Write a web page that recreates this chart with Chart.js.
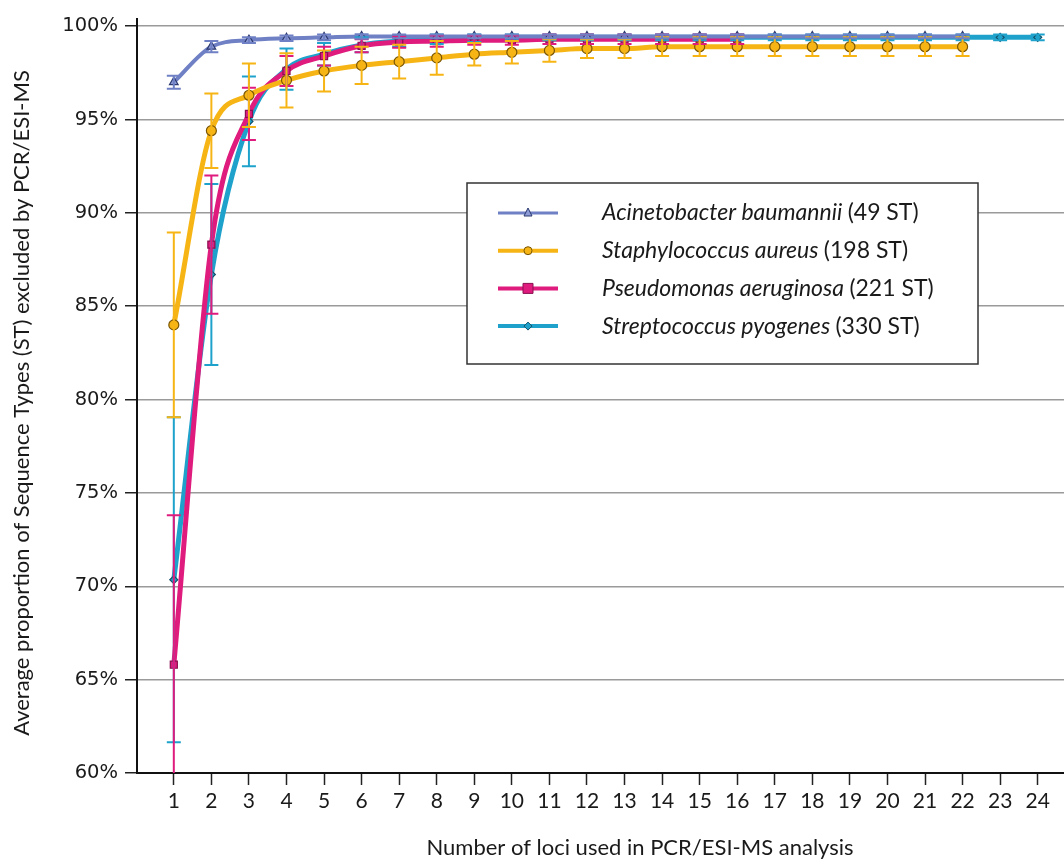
<!DOCTYPE html>
<html>
<head>
<meta charset="utf-8">
<script src="https://cdn.jsdelivr.net/npm/chart.js@4.4.0/dist/chart.umd.min.js"></script>
<style>
html, body { margin: 0; padding: 0; background: #fff; }
#wrap { width: 1064px; height: 864px; }
</style>
</head>
<body>
<div id="wrap"><canvas id="chart" width="1064" height="864"></canvas></div>
<script>
// data
const loci = [1,2,3,4,5,6,7,8,9,10,11,12,13,14,15,16,17,18,19,20,21,22,23,24];
const yTicks = [60,65,70,75,80,85,90,95,100];

const acineto    = [97.0,98.9,99.25,99.35,99.4,99.45,99.45,99.45,99.45,99.45,99.45,99.45,99.45,99.45,99.45,99.45,99.45,99.45,99.45,99.45,99.45,99.45];
const acinetoErr = [0.35,0.3,0.15,0.15,0.15,0.12,0.1,0.1,0.1,0.1,0.1,0.1,0.1,0.1,0.1,0.1,0.1,0.1,0.1,0.1,0.1,0.1];

const staph    = [84.0,94.4,96.3,97.1,97.6,97.9,98.1,98.3,98.5,98.6,98.7,98.8,98.8,98.9,98.9,98.9,98.9,98.9,98.9,98.9,98.9,98.9];
const staphErr = [4.95,2.0,1.7,1.45,1.1,1.0,0.9,0.9,0.6,0.6,0.6,0.5,0.5,0.5,0.5,0.5,0.5,0.5,0.5,0.5,0.5,0.5];

const pseudo    = [65.8,88.3,95.3,97.6,98.4,98.95,99.15,99.2,99.25,99.25,99.3,99.3,99.3,99.3,99.3,99.3];
const pseudoErr = [8.0,3.7,1.4,0.8,0.5,0.35,0.3,0.3,0.25,0.25,0.25,0.25,0.25,0.25,0.25,0.25];

const strep    = [70.35,86.7,94.9,97.7,98.5,99.0,99.2,99.3,99.35,99.4,99.4,99.4,99.4,99.4,99.4,99.4,99.4,99.4,99.4,99.4,99.4,99.4,99.4,99.4];
const strepErr = [8.7,4.85,2.4,1.1,0.6,0.4,0.3,0.25,0.2,0.15,0.15,0.15,0.15,0.15,0.15,0.15,0.15,0.15,0.15,0.15,0.15,0.15,0.15,0.15];

const names  = ['Acinetobacter baumannii', 'Staphylococcus aureus', 'Pseudomonas aeruginosa', 'Streptococcus pyogenes'];
const counts = ['(49 ST)', '(198 ST)', '(221 ST)', '(330 ST)'];
const xTitle = 'Number of loci used in PCR/ESI-MS analysis';
const yTitle = 'Average proportion of Sequence Types (ST) excluded by PCR/ESI-MS';

const pts = (arr) => arr.map((v, i) => ({x: loci[i], y: v}));

const narrow = "'Lato', sans-serif";

// error bars
const errorBars = {
    id: 'errorBars',
    afterDatasetsDraw(chart) {
        const ctx = chart.ctx;
        const xs = chart.scales.x, ys = chart.scales.y;
        const a = chart.chartArea;
        ctx.save();
        ctx.beginPath();
        ctx.rect(a.left, a.top, a.right - a.left, a.bottom - a.top);
        ctx.clip();
        for (let d = chart.data.datasets.length - 1; d >= 0; d--) {
            const ds = chart.data.datasets[d];
            ctx.strokeStyle = ds.borderColor;
            ctx.lineWidth = 2;
            ds.data.forEach((p, i) => {
                const e = ds.errs[i];
                const x = xs.getPixelForValue(p.x);
                const y1 = ys.getPixelForValue(p.y + e);
                const y2 = ys.getPixelForValue(p.y - e);
                ctx.beginPath();
                ctx.moveTo(x, y1); ctx.lineTo(x, y2);
                ctx.moveTo(x - 7, y1); ctx.lineTo(x + 7, y1);
                ctx.moveTo(x - 7, y2); ctx.lineTo(x + 7, y2);
                ctx.stroke();
            });
        }
        ctx.restore();
    }
};

// axis titles, placed like the figure (not centred on the plot area)
const axisTitles = {
    id: 'axisTitles',
    afterDraw(chart) {
        const ctx = chart.ctx;
        ctx.save();
        ctx.fillStyle = '#1a1a1a';
        ctx.textAlign = 'center';
        ctx.textBaseline = 'middle';
        ctx.font = "22px " + narrow;
        ctx.fillText(xTitle, 640, 848);
        ctx.translate(22, 403);
        ctx.rotate(-Math.PI / 2);
        ctx.font = "22px " + narrow;
        ctx.fillText(yTitle, 0, 0);
        ctx.restore();
    }
};

// boxed legend with italic species names
const boxLegend = {
    id: 'boxLegend',
    afterDraw(chart) {
        const ctx = chart.ctx;
        const bx = 467, by = 183, bw = 511, bh = 181;
        ctx.save();
        ctx.fillStyle = '#fff';
        ctx.fillRect(bx, by, bw, bh);
        ctx.strokeStyle = '#333';
        ctx.lineWidth = 1.5;
        ctx.strokeRect(bx, by, bw, bh);
        chart.data.datasets.forEach((ds, i) => {
            const y = by + 30 + i * 37.7;
            ctx.strokeStyle = ds.borderColor;
            ctx.lineWidth = ds.borderWidth - 1;
            ctx.beginPath();
            ctx.moveTo(bx + 31, y); ctx.lineTo(bx + 91, y);
            ctx.stroke();
            ctx.fillStyle = ds.pointBackgroundColor;
            ctx.strokeStyle = ds.pointBorderColor;
            ctx.lineWidth = 1;
            ctx.beginPath();
            if (ds.pointStyle === 'circle') {
                ctx.arc(bx + 61, y, 4, 0, Math.PI * 2);
            } else if (ds.pointStyle === 'rect') {
                ctx.rect(bx + 56, y - 5, 10, 10);
            } else if (ds.pointStyle === 'triangle') {
                ctx.moveTo(bx + 61, y - 5); ctx.lineTo(bx + 65, y + 3); ctx.lineTo(bx + 57, y + 3); ctx.closePath();
            } else {
                ctx.moveTo(bx + 61, y - 4); ctx.lineTo(bx + 65, y); ctx.lineTo(bx + 61, y + 4); ctx.lineTo(bx + 57, y); ctx.closePath();
            }
            ctx.fill(); ctx.stroke();
            ctx.fillStyle = '#1a1a1a';
            ctx.textBaseline = 'middle';
            ctx.font = "italic 23px 'Lato', sans-serif";
            ctx.fillText(names[i], bx + 135, y);
            const w = ctx.measureText(names[i] + ' ').width;
            ctx.font = "23px 'Lato', sans-serif";
            ctx.fillText(counts[i], bx + 135 + w, y);
        });
        ctx.restore();
    }
};

const chart = document.querySelector('#chart').getContext('2d');

new Chart(chart, {
    type: 'line',
    data: {
        datasets: [{
            label: names[0],
            data: pts(acineto),
            errs: acinetoErr,
            borderColor: '#6f80c4',
            borderWidth: 4,
            pointStyle: 'triangle',
            pointRadius: 5,
            pointBackgroundColor: '#8d9bd6',
            pointBorderColor: '#2c3a70',
            pointBorderWidth: 1.2
        }, {
            label: names[1],
            data: pts(staph),
            errs: staphErr,
            borderColor: '#f6b515',
            borderWidth: 5,
            pointStyle: 'circle',
            pointRadius: 5,
            pointBackgroundColor: '#f6b515',
            pointBorderColor: '#7a5606',
            pointBorderWidth: 1.2
        }, {
            label: names[2],
            data: pts(pseudo),
            errs: pseudoErr,
            borderColor: '#df1b7d',
            borderWidth: 5,
            pointStyle: 'rect',
            pointRadius: 5,
            pointBackgroundColor: '#df1b7d',
            pointBorderColor: '#8a1050',
            pointBorderWidth: 1.2
        }, {
            label: names[3],
            data: pts(strep),
            errs: strepErr,
            borderColor: '#1ea2cc',
            borderWidth: 5,
            pointStyle: 'rectRot',
            pointRadius: 4,
            pointBackgroundColor: '#1ea2cc',
            pointBorderColor: '#14506a',
            pointBorderWidth: 1.2
        }]
    },
    options: {
        responsive: false,
        animation: false,
        layout: { autoPadding: false, padding: { top: 15, right: 0, left: 0, bottom: 0 } },
        elements: { line: { cubicInterpolationMode: 'monotone' } },
        plugins: {
            legend: { display: false },
            tooltip: { enabled: false }
        },
        scales: {
            x: {
                type: 'linear',
                min: 0.02,
                max: 24.7,
                afterBuildTicks: (s) => { s.ticks = loci.map(v => ({value: v})); },
                afterFit: (s) => { s.height = 91; s.paddingRight = 0; s.paddingLeft = 0; },
                grid: { drawOnChartArea: false, drawTicks: true, tickLength: 12, tickColor: '#222', tickWidth: 1.5 },
                border: { color: '#111', width: 2 },
                ticks: { autoSkip: false, maxRotation: 0, padding: 4, color: '#1a1a1a', font: { family: narrow, size: 21 } },
                title: { display: false, text: xTitle }
            },
            y: {
                min: 60,
                max: 100.4,
                afterBuildTicks: (s) => { s.ticks = yTicks.map(v => ({value: v})); },
                afterFit: (s) => { s.width = 137; },
                grid: { color: '#9a9a9a', lineWidth: 1.5, drawTicks: true, tickLength: 12, tickColor: '#222', tickWidth: 1.5 },
                border: { color: '#111', width: 2 },
                ticks: { padding: 7, color: '#1a1a1a', font: { family: "'DejaVu Sans', sans-serif", size: 19.5 }, callback: (v) => v + '%' },
                title: { display: false, text: yTitle }
            }
        }
    },
    plugins: [errorBars, axisTitles, boxLegend]
});
</script>
</body>
</html>
